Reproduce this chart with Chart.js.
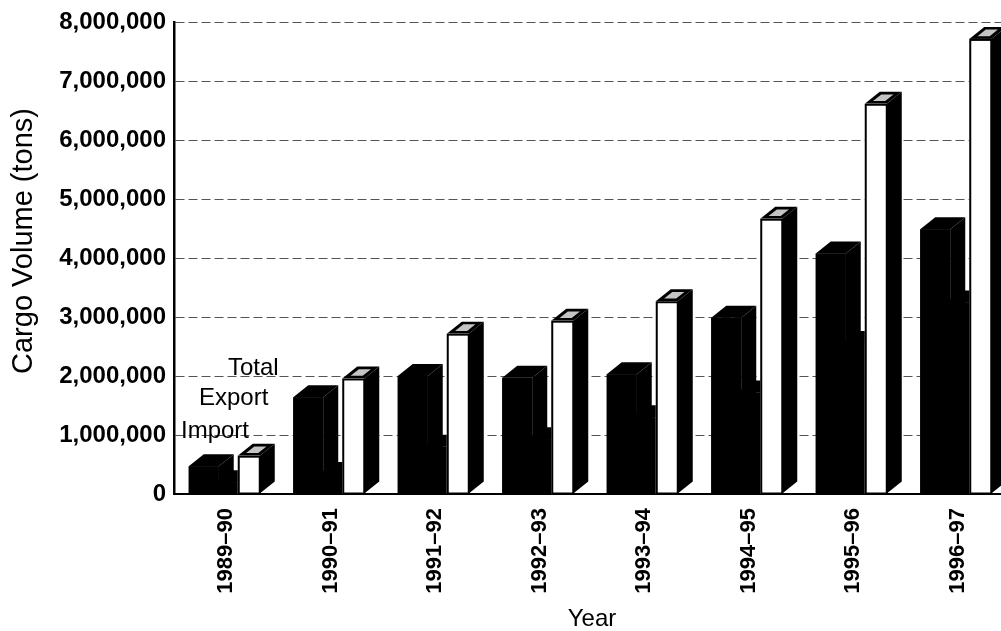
<!DOCTYPE html>
<html>
<head>
<meta charset="utf-8">
<script src="https://cdn.jsdelivr.net/npm/chart.js@4.4.1/dist/chart.umd.min.js"></script>
<style>
  html, body { margin: 0; padding: 0; overflow: hidden; background: #fff; }
</style>
</head>
<body>
<canvas id="chart" width="1020" height="631"></canvas>
<script>
const years = ["1989–90", "1990–91", "1991–92", "1992–93", "1993–94", "1994–95", "1995–96", "1996–97"];
const importTons = [470000, 1640000, 2000000, 1970000, 2030000, 2990000, 4080000, 4490000];
const exportTons = [200000, 340000, 800000, 930000, 1300000, 1720000, 2560000, 3250000];
const totalTons = [650000, 1960000, 2720000, 2940000, 3270000, 4670000, 6620000, 7720000];
const seriesNames = ["Import", "Export", "Total"];
const yTitle = "Cargo Volume (tons)";

const FONT = "'Liberation Sans', Arial, Helvetica, sans-serif";
Chart.defaults.font.family = FONT;
Chart.defaults.color = "#000";

const DEPTH_X = 15;
const DEPTH_Y = 12;

// fake 3d: redraw each bar with a side and a top face, export first so it sits behind
const bars3d = {
  id: "bars3d",
  afterDatasetsDraw(chart) {
    const ctx = chart.ctx;
    const drawOrder = [1, 0, 2];
    ctx.save();
    for (let i = 0; i < chart.data.labels.length; i++) {
      for (const d of drawOrder) {
        const ds = chart.data.datasets[d];
        const bar = chart.getDatasetMeta(d).data[i];
        const { x, y, base, width } = bar.getProps(["x", "y", "base", "width"], true);
        const l = x - width / 2;
        const r = x + width / 2;

        ctx.fillStyle = "#000";
        // side face
        ctx.beginPath();
        ctx.moveTo(r, y);
        ctx.lineTo(r + DEPTH_X, y - DEPTH_Y);
        ctx.lineTo(r + DEPTH_X, base - DEPTH_Y);
        ctx.lineTo(r, base);
        ctx.closePath();
        ctx.fill();
        // top face
        const top = [[l, y], [l + DEPTH_X, y - DEPTH_Y], [r + DEPTH_X, y - DEPTH_Y], [r, y]];
        ctx.beginPath();
        top.forEach(([px, py], k) => (k ? ctx.lineTo(px, py) : ctx.moveTo(px, py)));
        ctx.closePath();
        ctx.fill();

        if (ds.hollow) {
          const cx = (l + r + DEPTH_X) / 2;
          const cy = y - DEPTH_Y / 2;
          ctx.fillStyle = "#c4c4c4";
          ctx.beginPath();
          top.forEach(([px, py], k) => {
            const qx = cx + (px - cx) * 0.55;
            const qy = cy + (py - cy) * 0.55;
            k ? ctx.lineTo(qx, qy) : ctx.moveTo(qx, qy);
          });
          ctx.closePath();
          ctx.fill();
          ctx.fillStyle = "#fff";
          ctx.fillRect(l, y, width, base - y);
          ctx.strokeStyle = "#000";
          ctx.lineWidth = 2;
          ctx.strokeRect(l + 1, y + 1, width - 1, base - y - 1);
        } else {
          ctx.fillRect(l, y, width, base - y);
        }
      }
    }
    ctx.restore();
  }
};

// series names on the left like the depth axis of the original, plus the y title
const sideText = {
  id: "sideText",
  afterDraw(chart) {
    const { ctx, chartArea } = chart;
    const spots = [[7, 56], [25, 89], [54, 119]];
    ctx.save();
    ctx.font = "24px " + FONT;
    ctx.fillStyle = "#000";
    ctx.textBaseline = "alphabetic";
    chart.data.datasets.forEach((ds, k) => {
      ctx.fillText(ds.label, chartArea.left + spots[k][0], chartArea.bottom - spots[k][1]);
    });

    ctx.translate(24, 241);
    ctx.rotate(-Math.PI / 2);
    ctx.font = "29px " + FONT;
    ctx.textAlign = "center";
    ctx.textBaseline = "middle";
    ctx.fillText(yTitle, 0, 0);
    ctx.restore();
  }
};

new Chart(document.getElementById("chart"), {
  type: "bar",
  data: {
    labels: years,
    datasets: [
      { label: seriesNames[0], data: importTons, backgroundColor: "#000", barPercentage: 1.333 },
      { label: seriesNames[1], data: exportTons, backgroundColor: "#000", barPercentage: 1.02 },
      { label: seriesNames[2], data: totalTons, backgroundColor: "#fff", barPercentage: 0.978, hollow: true }
    ]
  },
  options: {
    responsive: false,
    animation: false,
    layout: { padding: { top: 20, right: 10, left: 0, bottom: 0 } },
    datasets: { bar: { categoryPercentage: 0.646, borderWidth: 0 } },
    plugins: { legend: { display: false }, tooltip: { enabled: false } },
    scales: {
      x: {
        grid: { display: false },
        border: { display: true, color: "#000", width: 2 },
        ticks: {
          color: "#000",
          font: { size: 22, weight: "bold" },
          minRotation: 90,
          maxRotation: 90,
          autoSkip: false,
          padding: 6
        },
        title: {
          display: true,
          text: "Year",
          color: "#000",
          font: { size: 24, lineHeight: 1 },
          padding: { top: 0, bottom: 0 }
        },
        afterFit(scale) { scale.height = 137; }
      },
      y: {
        min: 0,
        max: 8000000,
        ticks: {
          stepSize: 1000000,
          color: "#000",
          font: { size: 24, weight: "bold" },
          padding: 8,
          callback: (v) => v.toLocaleString("en-US")
        },
        grid: { color: "#555", lineWidth: 1, drawTicks: false },
        border: { display: true, color: "#000", width: 2.5, dash: [9, 4] },
        afterFit(scale) { scale.width = 174; }
      }
    }
  },
  plugins: [bars3d, sideText]
});
</script>
</body>
</html>
